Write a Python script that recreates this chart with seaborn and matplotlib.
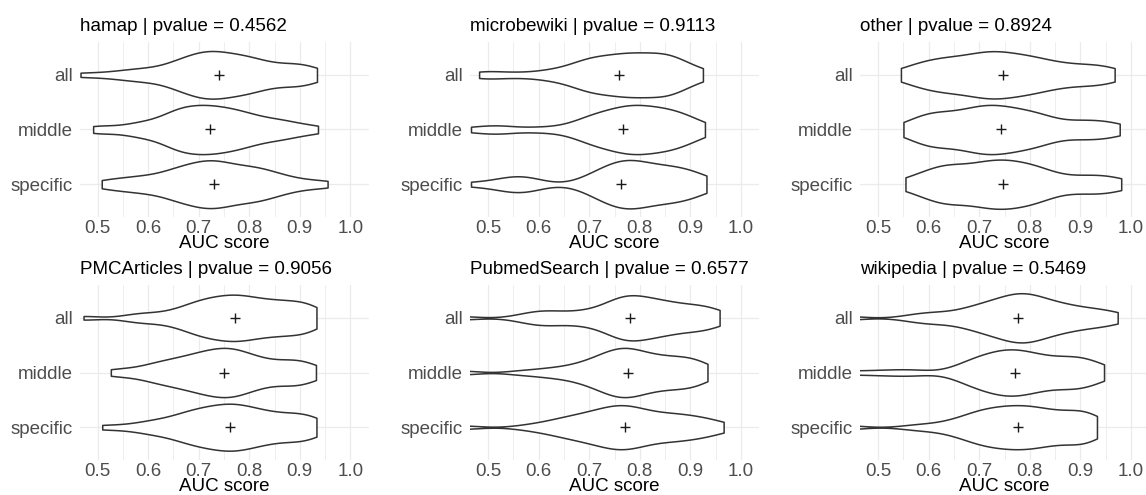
import matplotlib
matplotlib.use("Agg")
import matplotlib.pyplot as plt
import seaborn as sns
import pandas as pd
from matplotlib.ticker import MultipleLocator

sources = ["hamap", "microbewiki", "other", "PMCArticles", "PubmedSearch", "wikipedia"]
pvalues = ["0.4562", "0.9113", "0.8924", "0.9056", "0.6577", "0.5469"]
groups = ["all", "middle", "specific"]

# AUC scores per source / term group
hamap_all = [0.466, 0.52, 0.555, 0.575, 0.595, 0.61, 0.9, 0.635, 0.645, 0.655, 0.662, 0.67,
             0.677, 0.684, 0.69, 0.697, 0.703, 0.708, 0.713, 0.718, 0.722, 0.727, 0.732, 0.737,
             0.742, 0.747, 0.755, 0.762, 0.768, 0.775, 0.781, 0.787, 0.793, 0.798, 0.806, 0.814,
             0.822, 0.831, 0.841, 0.856, 0.868, 0.881, 0.894, 0.91, 0.922, 0.934]
hamap_middle = [0.491, 0.515, 0.87, 0.56, 0.578, 0.595, 0.607, 0.655, 0.627, 0.637, 0.646, 0.654,
                0.66, 0.667, 0.673, 0.679, 0.685, 0.691, 0.697, 0.703, 0.708, 0.713, 0.718, 0.723,
                0.729, 0.735, 0.741, 0.747, 0.754, 0.76, 0.766, 0.772, 0.779, 0.786, 0.793, 0.802,
                0.811, 0.821, 0.832, 0.845, 0.862, 0.88, 0.91, 0.936]
hamap_specific = [0.508, 0.53, 0.557, 0.573, 0.59, 0.603, 0.82, 0.624, 0.634, 0.644, 0.654, 0.661,
                  0.668, 0.675, 0.682, 0.689, 0.696, 0.703, 0.709, 0.714, 0.719, 0.724, 0.729, 0.734,
                  0.739, 0.745, 0.752, 0.759, 0.766, 0.773, 0.781, 0.79, 0.797, 0.805, 0.815, 0.825,
                  0.835, 0.846, 0.86, 0.875, 0.89, 0.925, 0.955]

microbewiki_all = [0.482, 0.51, 0.85, 0.56, 0.87, 0.61, 0.628, 0.86, 0.658, 0.67, 0.68, 0.69,
                   0.698, 0.705, 0.712, 0.719, 0.727, 0.734, 0.742, 0.752, 0.758, 0.764, 0.77, 0.776,
                   0.782, 0.788, 0.795, 0.802, 0.808, 0.815, 0.822, 0.829, 0.836, 0.844, 0.856, 0.866,
                   0.878, 0.89, 0.91, 0.925]
microbewiki_middle = [0.466, 0.512, 0.528, 0.85, 0.59, 0.866, 0.638, 0.9, 0.675, 0.687, 0.697, 0.705,
                      0.714, 0.722, 0.73, 0.738, 0.745, 0.753, 0.759, 0.765, 0.771, 0.777, 0.782, 0.787,
                      0.792, 0.797, 0.803, 0.809, 0.815, 0.821, 0.828, 0.835, 0.843, 0.853, 0.862, 0.872,
                      0.882, 0.893, 0.91, 0.929]
microbewiki_specific = [0.466, 0.52, 0.54, 0.555, 0.565, 0.578, 0.592, 0.86, 0.87, 0.88, 0.692, 0.705,
                        0.715, 0.724, 0.732, 0.739, 0.746, 0.753, 0.758, 0.763, 0.768, 0.772, 0.776, 0.781,
                        0.786, 0.791, 0.796, 0.803, 0.81, 0.817, 0.824, 0.831, 0.839, 0.847, 0.862, 0.877,
                        0.892, 0.9, 0.915, 0.92, 0.932]

other_all = [0.545, 0.562, 0.578, 0.593, 0.607, 0.619, 0.631, 0.643, 0.655, 0.664, 0.673, 0.682,
             0.69, 0.697, 0.704, 0.711, 0.717, 0.723, 0.729, 0.735, 0.742, 0.749, 0.756, 0.763,
             0.77, 0.778, 0.787, 0.795, 0.803, 0.811, 0.819, 0.828, 0.837, 0.60, 0.856, 0.866,
             0.876, 0.64, 0.896, 0.91, 0.925, 0.94, 0.955, 0.968]
other_middle = [0.55, 0.568, 0.585, 0.603, 0.617, 0.629, 0.641, 0.652, 0.66, 0.668, 0.676, 0.684,
                0.691, 0.698, 0.703, 0.709, 0.715, 0.721, 0.727, 0.733, 0.739, 0.745, 0.752, 0.759,
                0.766, 0.773, 0.781, 0.789, 0.797, 0.805, 0.813, 0.822, 0.831, 0.84, 0.59, 0.858,
                0.60, 0.62, 0.886, 0.896, 0.912, 0.928, 0.945, 0.962, 0.978]
other_specific = [0.554, 0.57, 0.587, 0.604, 0.619, 0.632, 0.644, 0.655, 0.664, 0.673, 0.682, 0.69,
                  0.698, 0.705, 0.712, 0.719, 0.725, 0.731, 0.737, 0.743, 0.749, 0.755, 0.762, 0.769,
                  0.776, 0.783, 0.79, 0.797, 0.805, 0.813, 0.821, 0.83, 0.839, 0.64, 0.857, 0.61,
                  0.877, 0.625, 0.9, 0.914, 0.93, 0.947, 0.965, 0.981]

pmc_all = [0.472, 0.9, 0.565, 0.59, 0.612, 0.92, 0.643, 0.655, 0.86, 0.673, 0.682, 0.69,
           0.697, 0.704, 0.711, 0.718, 0.724, 0.731, 0.737, 0.743, 0.75, 0.756, 0.762, 0.767,
           0.772, 0.777, 0.782, 0.788, 0.794, 0.8, 0.807, 0.814, 0.821, 0.828, 0.836, 0.844,
           0.853, 0.862, 0.872, 0.882, 0.893, 0.905, 0.916, 0.925, 0.933]
pmc_middle = [0.526, 0.558, 0.89, 0.592, 0.607, 0.619, 0.631, 0.643, 0.654, 0.662, 0.671, 0.679,
              0.688, 0.696, 0.703, 0.709, 0.715, 0.721, 0.727, 0.733, 0.739, 0.745, 0.751, 0.756,
              0.761, 0.766, 0.771, 0.776, 0.782, 0.788, 0.795, 0.804, 0.813, 0.822, 0.831, 0.84,
              0.856, 0.869, 0.882, 0.895, 0.908, 0.92, 0.932]
pmc_specific = [0.509, 0.56, 0.9, 0.595, 0.61, 0.622, 0.93, 0.645, 0.655, 0.664, 0.672, 0.68,
                0.688, 0.696, 0.703, 0.709, 0.715, 0.721, 0.727, 0.733, 0.74, 0.746, 0.752, 0.757,
                0.762, 0.767, 0.772, 0.777, 0.782, 0.788, 0.794, 0.801, 0.808, 0.815, 0.822, 0.829,
                0.837, 0.845, 0.855, 0.865, 0.875, 0.885, 0.895, 0.91, 0.922, 0.933]

pubmed_all = [0.445, 0.57, 0.59, 0.605, 0.618, 0.632, 0.66, 0.682, 0.696, 0.708, 0.93, 0.94,
              0.735, 0.742, 0.748, 0.753, 0.758, 0.763, 0.767, 0.772, 0.777, 0.782, 0.787, 0.793,
              0.798, 0.804, 0.811, 0.818, 0.825, 0.832, 0.839, 0.846, 0.853, 0.861, 0.87, 0.879,
              0.888, 0.898, 0.912, 0.925, 0.94, 0.958]
pubmed_middle = [0.45, 0.565, 0.9, 0.61, 0.628, 0.915, 0.658, 0.672, 0.684, 0.695, 0.78, 0.71,
                 0.717, 0.723, 0.729, 0.735, 0.741, 0.747, 0.752, 0.757, 0.762, 0.767, 0.772, 0.777,
                 0.782, 0.788, 0.794, 0.801, 0.808, 0.815, 0.822, 0.829, 0.836, 0.843, 0.852, 0.86,
                 0.868, 0.876, 0.884, 0.893, 0.908, 0.922, 0.934]
pubmed_specific = [0.45, 0.575, 0.61, 0.627, 0.643, 0.655, 0.665, 0.675, 0.685, 0.694, 0.703, 0.71,
                   0.717, 0.724, 0.731, 0.737, 0.743, 0.749, 0.754, 0.759, 0.764, 0.769, 0.774, 0.779,
                   0.784, 0.79, 0.796, 0.803, 0.811, 0.819, 0.827, 0.836, 0.845, 0.854, 0.863, 0.872,
                   0.881, 0.89, 0.899, 0.91, 0.922, 0.935, 0.948, 0.966]

wiki_all = [0.44, 0.565, 0.59, 0.612, 0.628, 0.796, 0.658, 0.671, 0.683, 0.694, 0.703, 0.711,
            0.719, 0.727, 0.734, 0.741, 0.748, 0.754, 0.759, 0.764, 0.769, 0.774, 0.779, 0.784,
            0.789, 0.794, 0.8, 0.806, 0.812, 0.818, 0.825, 0.832, 0.839, 0.846, 0.855, 0.864,
            0.873, 0.882, 0.892, 0.905, 0.918, 0.932, 0.946, 0.962, 0.974]
wiki_middle = [0.44, 0.50, 0.545, 0.58, 0.9, 0.885, 0.655, 0.668, 0.679, 0.688, 0.696, 0.704,
               0.711, 0.718, 0.725, 0.731, 0.737, 0.743, 0.749, 0.754, 0.759, 0.764, 0.769, 0.774,
               0.779, 0.785, 0.791, 0.797, 0.804, 0.811, 0.818, 0.825, 0.833, 0.842, 0.852, 0.862,
               0.872, 0.882, 0.893, 0.905, 0.915, 0.925, 0.937, 0.947]
wiki_specific = [0.44, 0.57, 0.92, 0.608, 0.91, 0.64, 0.653, 0.89, 0.671, 0.68, 0.689, 0.697,
                 0.704, 0.711, 0.718, 0.725, 0.731, 0.738, 0.745, 0.752, 0.758, 0.764, 0.77, 0.776,
                 0.782, 0.788, 0.794, 0.8, 0.806, 0.813, 0.82, 0.827, 0.834, 0.841, 0.849, 0.858,
                 0.868, 0.878, 0.89, 0.902, 0.914, 0.924, 0.933]

scores = {
    "hamap": [hamap_all, hamap_middle, hamap_specific],
    "microbewiki": [microbewiki_all, microbewiki_middle, microbewiki_specific],
    "other": [other_all, other_middle, other_specific],
    "PMCArticles": [pmc_all, pmc_middle, pmc_specific],
    "PubmedSearch": [pubmed_all, pubmed_middle, pubmed_specific],
    "wikipedia": [wiki_all, wiki_middle, wiki_specific],
}

rows = []
for src in sources:
    for grp, vals in zip(groups, scores[src]):
        rows += [(src, grp, v) for v in vals]
df = pd.DataFrame(rows, columns=["source", "group", "auc"])

sns.set_theme(style="white")
plt.rcParams["font.family"] = ["Liberation Sans", "DejaVu Sans"]

W, H = 1146, 495
fig = plt.figure(figsize=(W / 100, H / 100), dpi=100)
lefts = [79.5, 470, 860]
tops = [42, 285]
pw, ph = 289, 175
fs = 13.5

for i, (src, pv) in enumerate(zip(sources, pvalues)):
    r, c = divmod(i, 3)
    ax = fig.add_axes([lefts[c] / W, 1 - (tops[r] + ph) / H, pw / W, ph / H])
    sub = df[df.source == src]
    sns.violinplot(data=sub, x="auc", y="group", order=groups, orient="h", cut=0,
                   density_norm="area", inner=None, width=0.9, color="white",
                   linecolor="#333333", linewidth=1.1, bw_adjust=0.65, ax=ax)
    sns.pointplot(data=sub, x="auc", y="group", order=groups, orient="h",
                  estimator="mean", errorbar=None, markers="+", linestyles="none",
                  color="#1a1a1a", markersize=7, markeredgewidth=1.0, ax=ax)

    ax.set_xlim(0.464, 1.036)
    ax.set_ylim(2.6, -0.6)
    ax.xaxis.set_major_locator(MultipleLocator(0.1))
    ax.xaxis.set_minor_locator(MultipleLocator(0.05))
    ax.grid(which="major", color="#EBEBEB", lw=0.9)
    ax.grid(which="minor", axis="x", color="#EBEBEB", lw=0.6)
    ax.set_axisbelow(True)
    for s in ax.spines.values():
        s.set_visible(False)
    ax.tick_params(which="both", length=0, labelsize=fs, labelcolor="#4D4D4D")
    ax.tick_params(axis="x", pad=2.5)
    ax.tick_params(axis="y", pad=5)
    ax.set_ylabel("")
    ax.set_xlabel("AUC score", fontsize=fs, color="black", labelpad=-2)
    ax.set_title(f"{src} | pvalue = {pv}", loc="left", fontsize=fs, pad=8, color="black")

fig.savefig("out.png", dpi=100)
